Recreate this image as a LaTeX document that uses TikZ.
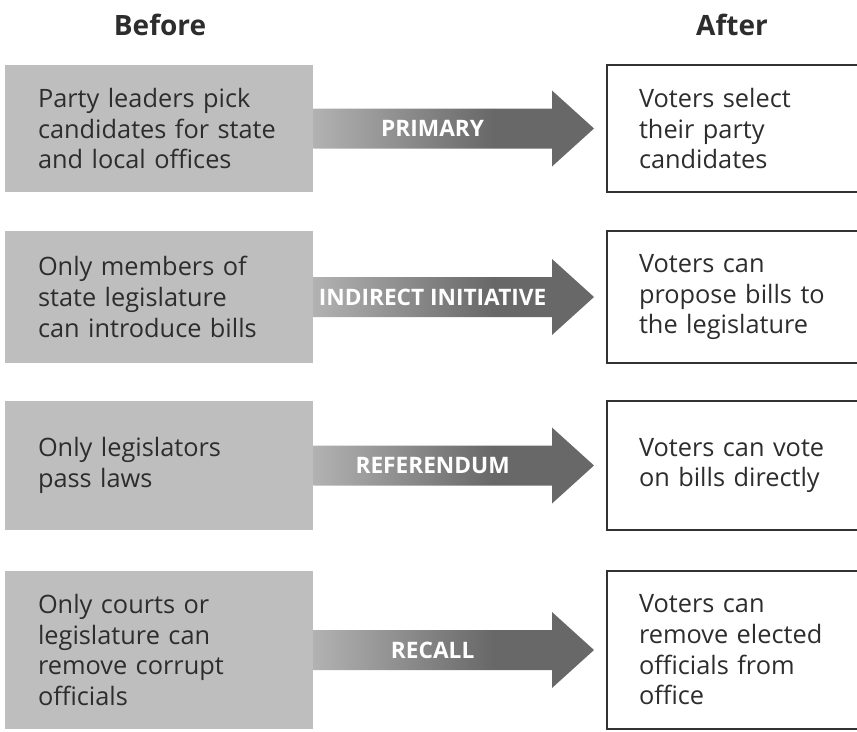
\documentclass[tikz,border=0pt]{standalone}
\usepackage{fontspec}
\setmainfont{Open Sans}
\usetikzlibrary{positioning}
\usetikzlibrary{calc}
\definecolor{color-before}{RGB}{190,190,190}
\definecolor{color-text}{RGB}{45,45,45}
\definecolor{color-frame}{RGB}{50,50,50}
\definecolor{arrow-light}{RGB}{178,178,178}
\definecolor{arrow-dark}{RGB}{104,104,104}
\pgfdeclarehorizontalshading{arrowshade}{100bp}{color(0bp)=(arrow-light); color(25bp)=(arrow-light); color(57bp)=(arrow-dark); color(100bp)=(arrow-dark)}

\begin{document}
\begin{tikzpicture}[x=0.75pt, y=-0.75pt,
before/.style={rectangle, fill=color-before, text=color-text, minimum width=231pt, text width=181.5pt, inner xsep=24.75pt, align=left, font=\fontsize{19}{23}\selectfont, minimum height=#1},
after/.style={rectangle, draw=color-frame, line width=1.5pt, fill=white, text=color-text, minimum width=197.25pt, text width=149.25pt, inner xsep=24pt, align=left, font=\fontsize{19}{23}\selectfont, minimum height=#1},
header/.style={font=\fontsize{21}{25}\selectfont\bfseries, text=color-text, anchor=base},
fat/.style={shading=arrowshade},
tag/.style={text=white, font=\fontsize{17}{20}\selectfont\bfseries}]
\useasboundingbox (0,0) rectangle (857,732);
\clip (0,0) rectangle (857,732);

% headers
\node [header] (before) at (160,35) {Before};
\node [header] (after) at (732,35) {After};

% before boxes
\node [before=95.25pt] (b1) at (159,128.5) {Party leaders pick\\candidates for state\\and local offices};
\node [before=99pt] (b2) at (159,297) {Only members of\\state legislature\\can introduce bills};
\node [before=96.75pt] (b3) at (159,465.5) {Only legislators\\pass laws};
\node [before=118.5pt] (b4) at (159,650) {Only courts or\\legislature can\\remove corrupt\\officials};

% after boxes
\node [after=95.25pt] (a1) at (738.5,128.5) {Voters select\\their party\\candidates};
\node [after=99pt] (a2) at (738.5,297) {Voters can\\propose bills to\\the legislature};
\node [after=96.75pt] (a3) at (738.5,465.5) {Voters can vote\\on bills directly};
\node [after=118.5pt] (a4) at (738.5,650) {Voters can\\remove elected\\officials from\\office};

% arrow tips
\coordinate (t1) at ($(a1.west)+(-12,0)$);
\coordinate (t2) at ($(a2.west)+(-12,0)$);
\coordinate (t3) at ($(a3.west)+(-12,0)$);
\coordinate (t4) at ($(a4.west)+(-12,0)$);

% fat arrows
\shade[fat] ($(b1.east)+(0,-20)$) -- ($(t1)+(-42,-20)$) -- ($(t1)+(-42,-38)$) -- (t1) -- ($(t1)+(-42,38)$) -- ($(t1)+(-42,20)$) -- ($(b1.east)+(0,20)$) -- cycle;
\shade[fat] ($(b2.east)+(0,-20)$) -- ($(t2)+(-42,-20)$) -- ($(t2)+(-42,-38)$) -- (t2) -- ($(t2)+(-42,38)$) -- ($(t2)+(-42,20)$) -- ($(b2.east)+(0,20)$) -- cycle;
\shade[fat] ($(b3.east)+(0,-20)$) -- ($(t3)+(-42,-20)$) -- ($(t3)+(-42,-38)$) -- (t3) -- ($(t3)+(-42,38)$) -- ($(t3)+(-42,20)$) -- ($(b3.east)+(0,20)$) -- cycle;
\shade[fat] ($(b4.east)+(0,-20)$) -- ($(t4)+(-42,-20)$) -- ($(t4)+(-42,-38)$) -- (t4) -- ($(t4)+(-42,38)$) -- ($(t4)+(-42,20)$) -- ($(b4.east)+(0,20)$) -- cycle;

% arrow labels
\node [tag] (l1) at ($(b1.east)!0.5!($(t1)+(-42,0)$)$) {PRIMARY};
\node [tag] (l2) at ($(b2.east)!0.5!($(t2)+(-42,0)$)$) {INDIRECT INITIATIVE};
\node [tag] (l3) at ($(b3.east)!0.5!($(t3)+(-42,0)$)$) {REFERENDUM};
\node [tag] (l4) at ($(b4.east)!0.5!($(t4)+(-42,0)$)$) {RECALL};
\end{tikzpicture}
\end{document}
